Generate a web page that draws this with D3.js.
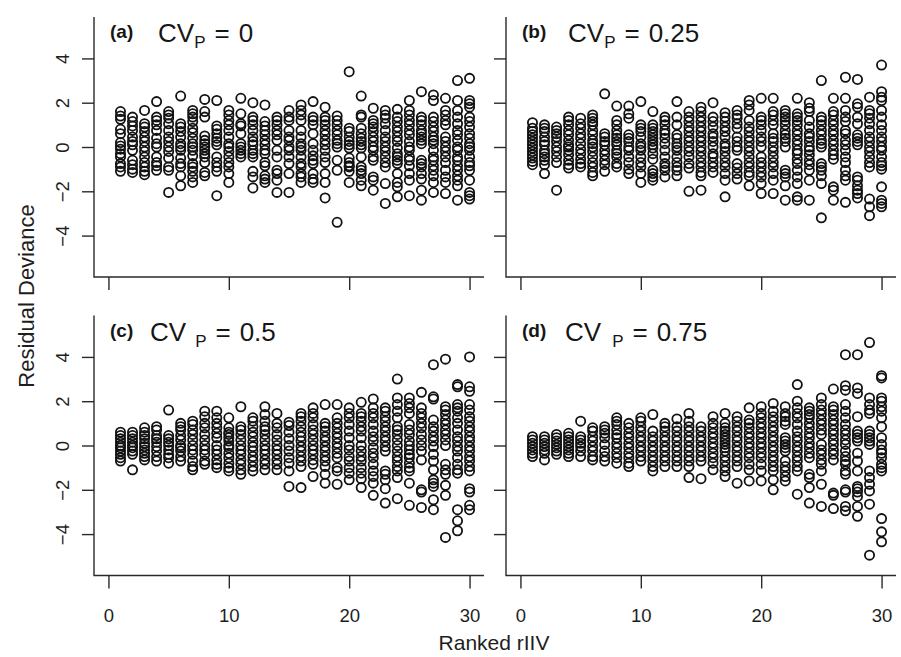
<!DOCTYPE html>
<html>
<head>
<meta charset="utf-8">
<script src="https://cdn.jsdelivr.net/npm/d3@7"></script>
<style>
  html, body { margin: 0; padding: 0; background: #fff; }
  svg { display: block; font-family: "Liberation Sans", Arial, Helvetica, sans-serif; }
</style>
</head>
<body>
<div id="chart"></div>
<script>
// ranked rIIV 1..30, residual deviances per rank
const xTicks = [0, 10, 20, 30];
const yTicks = [-4, -2, 0, 2, 4];
const panelTags = ["(a)", "(b)", "(c)", "(d)"];
const cvValues = ["0", "0.25", "0.5", "0.75"];

const panelA = [
  [1.6, 1.4, 1.25, 0.8, 0.6, 0.2, 0.05, -0.1, -0.3, -0.45, -0.75, -0.9, -1.1],
  [1.35, 1.15, 0.95, 0.75, 0.45, 0.25, 0.1, -0.15, -0.6, -0.8, -1.0, -1.15],
  [1.65, 1.05, 0.9, 0.7, 0.45, 0.25, 0.0, -0.2, -0.45, -0.7, -0.9, -1.1, -1.25],
  [2.05, 1.35, 1.2, 1.0, 0.75, 0.4, 0.15, 0.0, -0.45, -0.7, -0.85, -1.05],
  [1.6, 1.45, 1.3, 1.05, 0.75, 0.45, 0.25, 0.0, -0.2, -0.5, -0.9, -1.05, -2.05],
  [2.3, 1.05, 0.9, 0.7, 0.45, 0.15, 0.0, -0.15, -0.5, -0.75, -0.9, -1.3, -1.75],
  [1.65, 1.5, 1.35, 1.15, 0.85, 0.65, 0.4, 0.15, 0.0, -0.15, -0.4, -0.75, -0.9, -1.1, -1.35, -1.6],
  [2.15, 1.6, 1.35, 0.5, 0.3, 0.15, 0.0, -0.15, -0.3, -0.45, -0.7, -1.15, -1.3],
  [2.1, 0.95, 0.8, 0.6, 0.4, 0.25, 0.1, -0.45, -0.7, -0.9, -1.1, -2.2],
  [1.65, 1.45, 1.2, 1.0, 0.75, 0.45, 0.15, 0.0, -0.2, -0.45, -0.7, -0.9, -1.2, -1.6],
  [2.2, 1.5, 1.05, 0.95, 0.6, 0.15, 0.0, -0.15, -0.3, -0.45],
  [2.0, 1.35, 1.2, 1.0, 0.75, 0.45, 0.25, 0.1, -0.15, -0.3, -0.45, -1.1, -1.35, -1.85],
  [1.9, 1.15, 0.95, 0.75, 0.55, 0.3, 0.1, -0.15, -0.3, -0.7, -0.85, -1.3, -1.45, -1.6],
  [1.35, 1.2, 1.0, 0.75, 0.55, 0.3, -0.15, -0.45, -1.05, -1.2, -1.5, -2.05],
  [1.65, 1.35, 1.2, 0.75, 0.45, 0.3, 0.0, -0.15, -0.45, -0.75, -1.2, -2.05],
  [1.9, 1.65, 1.45, 1.2, 0.75, 0.45, 0.15, 0.0, -0.15, -0.45, -0.75, -0.9, -1.2, -1.35, -1.6],
  [2.05, 1.35, 1.2, 1.0, 0.6, 0.15, -0.15, -0.4, -0.6, -0.75, -1.2, -1.45, -1.6],
  [1.8, 1.35, 1.2, 1.0, 0.75, 0.55, 0.3, 0.1, -0.15, -0.45, -0.7, -1.2, -1.6, -2.3],
  [1.4, 1.2, 1.0, 0.75, 0.55, 0.3, 0.15, 0.0, -0.6, -1.05, -3.4],
  [3.4, 0.85, 0.7, 0.45, 0.25, 0.1, -0.05, -0.5, -0.7, -0.85, -0.9, -1.1, -1.6],
  [2.3, 1.45, 1.35, 0.85, 0.6, 0.4, 0.25, 0.1, -0.05, -0.45, -0.9, -1.05, -1.2, -1.5, -1.75],
  [1.75, 1.2, 1.05, 0.9, 0.7, 0.45, 0.25, 0.0, -0.15, -0.45, -0.6, -1.35, -1.5, -1.95],
  [1.65, 1.45, 1.3, 1.05, 0.75, 0.45, 0.25, 0.0, -0.2, -0.45, -0.7, -0.9, -1.65, -2.55],
  [1.7, 1.35, 1.15, 0.9, 0.7, 0.45, 0.25, -0.05, -0.3, -0.45, -0.6, -0.75, -1.2, -1.6, -1.8, -2.25],
  [2.1, 1.65, 1.45, 1.2, 1.0, 0.75, 0.55, 0.25, 0.0, -0.15, -0.45, -0.6, -0.85, -1.2, -1.5, -2.2],
  [2.5, 1.35, 1.2, 1.0, 0.75, 0.6, 0.45, 0.3, 0.15, -0.6, -0.75, -0.9, -1.2, -1.45, -1.95, -2.4],
  [2.35, 2.1, 1.35, 1.15, 0.9, 0.7, 0.45, 0.3, 0.15, -0.15, -0.45, -0.6, -0.85, -1.05, -1.3, -1.6, -2.05],
  [2.2, 1.65, 1.45, 1.2, 1.0, 0.45, 0.25, 0.0, -0.2, -0.45, -0.7, -1.05, -1.35, -1.6, -2.1],
  [3.0, 2.1, 1.65, 1.35, 1.05, 0.75, 0.55, 0.3, 0.0, -0.15, -0.45, -0.6, -0.85, -1.05, -1.3, -1.5, -1.75, -2.4],
  [3.1, 2.1, 1.95, 1.8, 1.35, 1.15, 0.9, 0.6, 0.4, 0.15, 0.0, -0.15, -0.45, -0.7, -0.85, -1.05, -1.5, -2.05, -2.2, -2.35],
];

const panelB = [
  [1.1, 0.85, 0.7, 0.55, 0.4, 0.25, 0.1, -0.05, -0.2, -0.35, -0.5, -0.65, -0.8],
  [1.0, 0.85, 0.7, 0.45, 0.25, 0.1, -0.15, -0.3, -0.45, -0.6, -0.8, -1.2],
  [0.9, 0.75, 0.6, 0.45, 0.25, 0.0, -0.2, -0.45, -0.7, -1.95],
  [1.35, 1.2, 1.0, 0.75, 0.55, 0.3, 0.1, 0.0, -0.15, -0.35, -0.6, -0.8, -0.95],
  [1.3, 1.05, 0.85, 0.6, 0.4, 0.15, -0.1, -0.3, -0.55, -0.75, -0.9],
  [1.45, 1.3, 1.15, 1.0, 0.75, 0.55, 0.3, 0.15, 0.0, -0.2, -0.45, -0.7, -0.9, -1.15, -1.3],
  [2.4, 0.6, 0.45, 0.25, 0.1, -0.15, -0.35, -0.6, -0.8, -1.1],
  [1.85, 1.2, 1.0, 0.75, 0.55, 0.4, 0.25, 0.1, -0.15, -0.3, -0.45, -0.75, -0.9],
  [1.85, 1.5, 1.3, 0.55, 0.4, 0.25, 0.0, -0.15, -0.45, -0.7, -1.0, -1.2],
  [2.05, 1.0, 0.85, 0.7, 0.45, 0.15, 0.0, -0.15, -0.45, -0.7, -0.9, -1.2, -1.6],
  [1.6, 1.0, 0.85, 0.7, 0.55, 0.4, 0.25, 0.1, -0.05, -0.3, -0.55, -1.05, -1.2, -1.35, -1.5],
  [1.35, 1.2, 1.0, 0.75, 0.6, 0.4, 0.15, -0.15, -0.45, -0.75, -0.9, -1.05, -1.35],
  [2.05, 1.35, 1.0, 0.55, 0.4, 0.15, 0.0, -0.15, -0.45, -0.7, -0.9, -1.05, -1.3],
  [1.6, 1.35, 1.15, 0.9, 0.7, 0.45, 0.25, 0.0, -0.2, -0.45, -0.75, -0.95, -2.0],
  [1.8, 1.6, 1.35, 1.15, 0.9, 0.7, 0.45, 0.25, 0.0, -0.2, -0.45, -0.7, -0.9, -1.15, -1.3, -1.95],
  [2.0, 1.35, 1.15, 0.9, 0.6, 0.45, 0.25, 0.0, -0.3, -0.45, -0.7, -0.9, -1.15],
  [1.55, 1.35, 1.15, 0.9, 0.7, 0.45, 0.15, 0.0, -0.2, -0.45, -0.7, -0.9, -1.2, -1.5, -2.25],
  [1.65, 1.45, 1.3, 1.05, 0.85, 0.45, 0.25, 0.0, -0.15, -0.75, -0.95, -1.2, -1.45],
  [2.1, 1.9, 1.65, 1.2, 0.9, 0.7, 0.45, 0.25, 0.0, -0.2, -0.45, -0.7, -0.9, -1.15, -1.3, -1.75],
  [2.2, 1.35, 1.2, 1.0, 0.75, 0.45, 0.25, 0.0, -0.45, -0.7, -0.9, -1.15, -1.35, -1.65, -2.1],
  [2.2, 1.6, 1.45, 1.2, 1.0, 0.6, 0.4, 0.25, 0.0, -0.2, -0.45, -0.7, -0.9, -1.2, -1.5, -2.1],
  [1.65, 1.5, 1.35, 1.2, 1.0, 0.75, 0.55, 0.4, 0.25, 0.0, -1.05, -1.2, -1.35, -1.75, -2.4],
  [2.2, 1.5, 1.35, 1.2, 1.0, 0.75, 0.55, 0.3, 0.1, -0.15, -0.3, -0.55, -0.75, -1.05, -1.35, -1.65, -2.25, -2.4],
  [2.0, 1.75, 1.6, 1.2, 0.9, 0.6, 0.45, 0.25, 0.0, -0.15, -0.35, -0.6, -0.8, -1.05, -1.5, -2.4],
  [3.0, 1.35, 1.2, 1.0, 0.75, 0.55, 0.3, 0.15, 0.0, -0.75, -0.9, -1.05, -1.3, -1.65, -3.2],
  [2.2, 1.6, 1.45, 1.2, 1.0, 0.75, 0.55, 0.3, 0.1, -0.15, -0.35, -0.55, -1.8, -1.95, -2.4],
  [3.15, 2.2, 1.65, 1.35, 1.15, 0.75, 0.6, 0.3, 0.1, -0.15, -0.45, -0.7, -1.05, -1.3, -1.5, -2.5],
  [3.05, 1.95, 1.8, 1.35, 1.05, 0.55, 0.4, 0.25, 0.1, -1.35, -1.5, -1.75, -1.95, -2.1, -2.3],
  [2.25, 1.65, 1.5, 1.3, 1.05, 0.75, 0.45, 0.25, 0.0, -0.2, -0.45, -0.7, -0.9, -2.35, -2.7, -3.1],
  [3.7, 2.5, 2.25, 2.1, 1.65, 1.35, 1.0, 0.75, 0.45, 0.25, 0.0, -0.15, -0.45, -0.7, -0.85, -1.0, -1.8, -2.4, -2.55, -2.7],
];

const panelC = [
  [0.6, 0.45, 0.3, 0.15, 0.0, -0.1, -0.25, -0.4, -0.55, -0.7],
  [0.6, 0.45, 0.3, 0.15, 0.0, -0.1, -0.25, -0.4, -1.1],
  [0.8, 0.6, 0.45, 0.3, 0.1, -0.05, -0.2, -0.35, -0.5, -0.65],
  [0.85, 0.7, 0.45, 0.3, 0.15, -0.05, -0.25, -0.5, -0.7],
  [1.6, 0.45, 0.3, 0.15, 0.0, -0.2, -0.4, -0.55, -0.8],
  [1.0, 0.85, 0.7, 0.45, 0.25, 0.0, -0.1, -0.25, -0.5, -0.7],
  [1.1, 0.95, 0.7, 0.5, 0.25, 0.0, -0.2, -0.4, -0.7, -0.95, -1.1],
  [1.55, 1.3, 1.0, 0.8, 0.5, 0.25, 0.0, -0.2, -0.4, -0.7, -0.85],
  [1.55, 1.25, 1.0, 0.8, 0.55, 0.35, 0.0, -0.2, -0.4, -0.65, -0.85, -1.0],
  [1.25, 0.8, 0.6, 0.5, 0.35, 0.2, 0.0, -0.1, -0.35, -0.55, -0.8, -1.0, -1.15],
  [1.75, 0.85, 0.7, 0.5, 0.25, 0.0, -0.2, -0.4, -0.65, -0.85, -1.1, -1.3],
  [1.25, 1.1, 0.85, 0.6, 0.4, 0.15, -0.05, -0.25, -0.5, -0.7, -0.95, -1.15],
  [1.75, 1.4, 1.1, 0.85, 0.7, 0.5, 0.25, 0.0, -0.2, -0.4, -0.65, -0.85, -1.1],
  [1.45, 1.0, 0.8, 0.5, 0.25, 0.0, -0.2, -0.4, -0.65, -0.85, -1.1],
  [1.05, 0.9, 0.6, 0.3, 0.0, -0.25, -0.55, -0.8, -1.15, -1.85],
  [1.45, 1.3, 1.1, 0.85, 0.6, 0.4, 0.2, -0.05, -0.25, -0.5, -0.7, -0.95, -1.9],
  [1.7, 1.45, 1.25, 0.95, 0.7, 0.5, 0.25, 0.0, -0.2, -0.4, -0.65, -0.85, -1.4],
  [1.85, 1.0, 0.85, 0.65, 0.4, 0.2, -0.05, -0.25, -0.5, -0.7, -0.95, -1.3, -1.7],
  [1.85, 1.25, 1.0, 0.8, 0.55, 0.35, 0.1, -0.1, -0.35, -0.55, -1.0, -1.15, -1.75],
  [1.7, 1.45, 1.25, 0.95, 0.65, 0.35, 0.0, -0.2, -0.5, -0.7, -1.0, -1.25, -1.55],
  [1.95, 1.45, 1.3, 1.1, 0.85, 0.65, 0.35, 0.0, -0.25, -0.5, -0.7, -1.0, -1.25, -1.5, -1.9],
  [2.1, 1.7, 1.45, 1.25, 0.95, 0.65, 0.4, 0.2, -0.1, -0.35, -0.55, -0.85, -1.15, -1.4, -1.7, -2.25],
  [1.7, 1.55, 1.3, 1.1, 0.85, 0.65, 0.4, 0.2, -0.05, -0.25, -1.15, -1.3, -1.55, -1.95, -2.6],
  [3.0, 2.15, 1.85, 1.55, 1.25, 0.85, 0.7, 0.5, 0.25, 0.0, -0.25, -0.5, -0.7, -0.95, -1.15, -1.45, -2.4],
  [2.15, 1.9, 1.7, 1.45, 0.95, 0.7, 0.5, 0.2, 0.0, -0.2, -0.4, -0.55, -0.8, -1.0, -1.15, -1.7, -2.7],
  [2.4, 1.7, 1.45, 1.25, 1.0, 0.8, 0.5, 0.25, 0.0, -0.25, -0.65, -2.0, -2.1, -2.8],
  [3.65, 2.2, 2.1, 1.15, 0.85, 0.65, 0.4, 0.2, -0.05, -0.4, -0.7, -1.1, -1.55, -1.7, -1.85, -2.45, -2.9],
  [3.9, 1.75, 1.6, 1.4, 1.15, 0.95, 0.7, 0.5, 0.25, 0.0, -0.85, -1.1, -1.3, -1.8, -2.25, -4.15],
  [2.75, 2.65, 1.85, 1.7, 1.55, 1.25, 1.0, 0.7, 0.4, 0.2, -0.05, -0.25, -0.55, -0.85, -1.1, -1.25, -2.9, -3.4, -3.85],
  [4.0, 2.65, 2.45, 1.85, 1.6, 1.3, 1.1, 0.85, 0.65, 0.4, 0.2, -0.05, -0.25, -0.5, -0.7, -0.95, -1.15, -1.95, -2.1, -2.7, -2.9],
];

const panelD = [
  [0.4, 0.25, 0.1, -0.05, -0.2, -0.35, -0.5],
  [0.4, 0.25, 0.1, -0.05, -0.2, -0.35, -0.65],
  [0.5, 0.35, 0.2, 0.05, -0.1, -0.25, -0.4],
  [0.55, 0.4, 0.25, 0.1, -0.05, -0.2, -0.35, -0.5],
  [1.1, 0.4, 0.25, 0.1, -0.05, -0.25, -0.5],
  [0.8, 0.65, 0.4, 0.2, -0.05, -0.25, -0.5, -0.65],
  [0.85, 0.7, 0.55, 0.35, 0.05, -0.25, -0.5, -0.7],
  [1.25, 1.1, 0.95, 0.7, 0.5, 0.35, 0.1, -0.1, -0.35, -0.55, -0.8],
  [1.0, 0.8, 0.55, 0.35, 0.1, -0.1, -0.35, -0.55, -0.8, -0.95],
  [1.25, 1.1, 0.85, 0.65, 0.4, 0.2, -0.05, -0.25, -0.5, -0.7],
  [1.4, 0.65, 0.4, 0.2, -0.05, -0.25, -0.5, -0.7, -0.95, -1.15],
  [1.0, 0.85, 0.65, 0.4, 0.2, -0.05, -0.25, -0.5, -0.7, -0.95],
  [1.2, 0.85, 0.65, 0.4, 0.2, -0.05, -0.25, -0.5, -0.7, -0.95],
  [1.45, 1.1, 0.85, 0.65, 0.4, 0.2, -0.05, -0.25, -0.5, -0.7, -0.95, -1.45],
  [0.85, 0.65, 0.4, 0.2, -0.05, -0.25, -0.5, -0.7, -1.5],
  [1.3, 1.0, 0.8, 0.55, 0.35, 0.1, -0.1, -0.35, -0.55, -0.8, -1.1],
  [1.45, 1.0, 0.8, 0.65, 0.5, 0.35, 0.2, 0.05, -0.1, -0.25, -0.5, -0.7, -0.95, -1.15, -1.4],
  [1.3, 1.1, 0.85, 0.65, 0.4, 0.2, -0.05, -0.25, -0.5, -0.7, -0.95, -1.7],
  [1.7, 1.15, 1.0, 0.8, 0.55, 0.35, 0.1, -0.1, -0.35, -0.55, -0.85, -1.1, -1.6],
  [1.75, 1.45, 1.25, 1.0, 0.8, 0.55, 0.35, 0.1, -0.1, -0.35, -0.55, -0.85, -1.15, -1.6],
  [1.9, 1.55, 1.3, 1.1, 0.85, 0.65, 0.4, 0.2, -0.05, -0.25, -0.5, -0.7, -0.95, -1.15, -1.55, -2.0],
  [1.75, 1.45, 1.3, 1.1, 0.95, 0.35, 0.2, 0.05, -0.1, -0.25, -0.7, -0.95, -1.15, -1.4, -1.6],
  [2.75, 2.0, 1.7, 1.45, 1.25, 0.95, 0.65, 0.4, 0.2, -0.05, -0.25, -0.5, -0.7, -0.95, -1.15, -2.2],
  [1.7, 1.55, 1.4, 1.25, 1.0, 0.8, 0.55, 0.35, 0.1, -0.1, -0.35, -0.55, -1.3, -1.45, -1.9, -2.6],
  [2.15, 1.85, 1.6, 1.4, 1.15, 0.95, 0.7, 0.5, 0.05, -0.2, -0.4, -0.65, -0.85, -1.15, -1.75, -2.75],
  [2.55, 1.75, 1.6, 1.4, 1.15, 0.95, 0.7, 0.5, 0.25, 0.05, -0.2, -0.4, -0.65, -2.15, -2.25, -2.85],
  [4.1, 2.7, 2.5, 1.85, 1.55, 1.25, 0.95, 0.7, 0.5, 0.25, 0.05, -0.25, -0.5, -0.7, -0.85, -1.15, -1.3, -2.0, -2.1, -2.75, -2.95],
  [4.1, 2.6, 2.35, 1.3, 0.65, 0.5, 0.35, 0.2, -0.35, -0.7, -1.15, -1.85, -1.95, -2.1, -2.3, -2.75, -3.2],
  [4.65, 2.15, 1.85, 1.6, 1.45, 0.65, 0.5, 0.35, 0.2, 0.05, -1.15, -1.45, -1.75, -2.05, -2.65, -4.95],
  [3.15, 3.05, 2.15, 2.0, 1.75, 1.55, 1.25, 0.85, 0.35, 0.05, -0.2, -0.35, -0.55, -0.85, -1.0, -1.15, -3.3, -3.9, -4.35],
];

class ResidualPanels {
  constructor({ el, panels }) {
    this.el = el;
    this.panels = panels;
    this.setup();
    this.scaffold();
    this.render();
  }

  setup() {
    this.width = 901;
    this.height = 657;
    this.panelWidth = 390;
    this.panelHeight = 260;
    this.ink = "#121212";
    this.axisInk = "#2a2a2a";
    this.radius = 4.6;
    // slot positions of the 2x2 grid
    this.slots = [
      { left: 94, top: 17, showX: false, showY: true, cvX: 64, subGap: 0 },
      { left: 506, top: 17, showX: false, showY: false, cvX: 62, subGap: 0 },
      { left: 94, top: 315.5, showX: true, showY: true, cvX: 56, subGap: 9 },
      { left: 506, top: 315.5, showX: true, showY: false, cvX: 59, subGap: 11 },
    ];
    this.formatTick = d3.format("d");
  }

  scaffold() {
    this.svg = d3
      .select(this.el)
      .append("svg")
      .attr("width", this.width)
      .attr("height", this.height)
      .attr("viewBox", [0, 0, this.width, this.height]);
  }

  render() {
    this.panels.forEach((p, i) => this.renderPanel(p, this.slots[i]));
    this.renderLabels();
  }

  renderPanel(panel, slot) {
    const { left, top } = slot;
    const x = d3.scaleLinear().domain([-1.2, 31.2]).range([left, left + this.panelWidth]);
    const y = d3.scaleLinear().domain([-5.87, 5.87]).range([top + this.panelHeight, top]);
    const g = this.svg.append("g").attr("class", "panel-g");

    // x axis
    g.append("g")
      .attr("transform", `translate(0,${top + this.panelHeight})`)
      .call(
        d3.axisBottom(x).tickValues(xTicks).tickSize(13).tickSizeOuter(0).tickPadding(20)
          .tickFormat(slot.showX ? this.formatTick : () => "")
      )
      .call((a) => a.select(".domain").remove())
      .call((a) => a.selectAll(".tick line").attr("stroke", this.axisInk).attr("stroke-width", 1.4))
      .call((a) => a.selectAll(".tick text").attr("fill", "#1e1e1e").attr("font-size", 18.5).attr("font-family", null));

    // y axis, labels parallel to the axis
    g.append("g")
      .attr("transform", `translate(${left},0)`)
      .call(
        d3.axisLeft(y).tickValues(yTicks).tickSize(12).tickSizeOuter(0)
          .tickFormat(slot.showY ? this.formatTick : () => "")
      )
      .call((a) => a.select(".domain").remove())
      .call((a) => a.selectAll(".tick line").attr("stroke", this.axisInk).attr("stroke-width", 1.4))
      .call((a) =>
        a.selectAll(".tick text")
          .attr("fill", "#1e1e1e")
          .attr("font-size", 18.5)
          .attr("font-family", null)
          .attr("text-anchor", "middle")
          .attr("x", 0)
          .attr("y", -25)
          .attr("dy", 0)
          .attr("transform", "rotate(-90)")
      );

    // open box: left and bottom only
    g.append("path")
      .attr("fill", "none")
      .attr("stroke", this.axisInk)
      .attr("stroke-width", 1.4)
      .attr("d", `M${left},${top}V${top + this.panelHeight}H${left + this.panelWidth}`);

    // points
    const pts = panel.values.flatMap((col, i) => col.map((v) => ({ rank: i + 1, v })));
    g.append("g")
      .attr("fill", "none")
      .attr("stroke", this.ink)
      .attr("stroke-width", 1.8)
      .selectAll("circle")
      .data(pts)
      .join("circle")
      .attr("cx", (d) => x(d.rank))
      .attr("cy", (d) => y(d.v))
      .attr("r", this.radius);

    // title
    const t = g.append("g").attr("fill", "#161616");
    t.append("text")
      .attr("x", left + 16)
      .attr("y", top + 21)
      .attr("font-size", 19)
      .attr("font-weight", "bold")
      .text(panel.tag);
    const cv = t.append("text").attr("x", left + slot.cvX).attr("y", top + 25).attr("font-size", 26);
    cv.append("tspan").text("CV");
    cv.append("tspan").attr("font-size", 17).attr("dx", slot.subGap).attr("dy", 6).text("P");
    cv.append("tspan").attr("dx", 9).attr("dy", -6).text("=");
    cv.append("tspan").attr("dx", 9).text(panel.cv);
  }

  renderLabels() {
    this.svg.append("text")
      .attr("x", 494)
      .attr("y", 650)
      .attr("text-anchor", "middle")
      .attr("font-size", 21)
      .attr("fill", "#1e1e1e")
      .text("Ranked rIIV");
    this.svg.append("text")
      .attr("transform", "translate(34,296)rotate(-90)")
      .attr("text-anchor", "middle")
      .attr("font-size", 22)
      .attr("fill", "#1e1e1e")
      .text("Residual Deviance");
  }
}

const panels = [panelA, panelB, panelC, panelD].map((values, i) => ({
  values,
  tag: panelTags[i],
  cv: cvValues[i],
}));

new ResidualPanels({ el: document.getElementById("chart"), panels });
</script>
</body>
</html>
